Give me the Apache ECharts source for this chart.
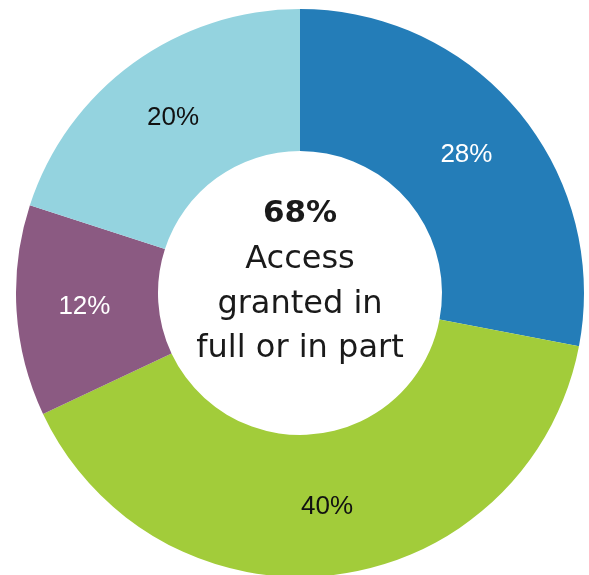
<!DOCTYPE html>
<html>
<head>
<meta charset="utf-8">
<style>
  html, body { margin: 0; padding: 0; background: #ffffff; }
  #chart { width: 589px; height: 575px; }
</style>
<script src="https://cdn.jsdelivr.net/npm/echarts@6/dist/echarts.min.js"></script>
</head>
<body>
<div id="chart"></div>
<script>
// Segment names, shares (%) and fills, clockwise from 12 o'clock
const categories = ['Granted in full', 'Refused', 'Not held', 'Granted in part'];
const shares = [28, 40, 12, 20];
const colors = ['#247DB8', '#A2CC3A', '#8B5A82', '#94D3DF'];
const labelColors = ['#ffffff', '#111111', '#ffffff', '#111111'];

// Centre caption
const headline = '68%';
const captionLines = ['Access', 'granted in', 'full or in part'];

const chart = echarts.init(document.getElementById('chart'), null, { renderer: 'canvas' });

const data = categories.map((name, i) => ({
  name: name,
  value: shares[i],
  itemStyle: { color: colors[i] },
  label: { color: labelColors[i] }
}));

const cx = 300, cy = 293;
const graphic = [{
  type: 'text',
  x: cx, y: 214,
  style: {
    text: headline,
    fill: '#1a1a1a',
    font: 'bold 31px "DejaVu Sans", sans-serif',
    textAlign: 'center',
    textVerticalAlign: 'middle'
  }
}];
captionLines.forEach((line, i) => {
  graphic.push({
    type: 'text',
    x: cx, y: 260 + i * 44.5,
    style: {
      text: line,
      fill: '#1a1a1a',
      font: '32px "DejaVu Sans", sans-serif',
      textAlign: 'center',
      textVerticalAlign: 'middle'
    }
  });
});

chart.setOption({
  animation: false,
  backgroundColor: '#ffffff',
  series: [{
    type: 'pie',
    center: [cx, cy],
    radius: [142, 284],
    startAngle: 90,
    clockwise: true,
    avoidLabelOverlap: false,
    label: {
      show: true,
      position: 'inside',
      formatter: '{c}%',
      fontFamily: '"Liberation Sans", Arial, sans-serif',
      fontSize: 26
    },
    labelLine: { show: false },
    itemStyle: { borderWidth: 0 },
    emphasis: { disabled: true },
    data: data
  }],
  graphic: graphic
});
</script>
</body>
</html>
